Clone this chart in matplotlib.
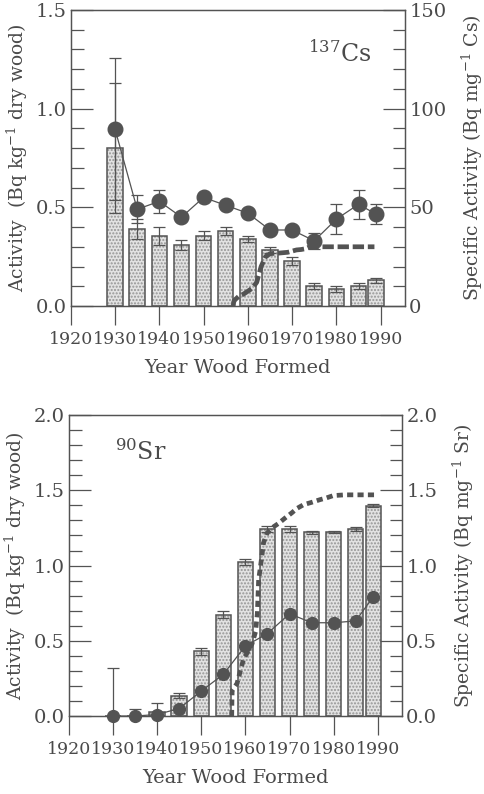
import matplotlib.pyplot as plt
from matplotlib.ticker import MultipleLocator

plt.rcParams['font.family'] = ['DejaVu Serif']
plt.rcParams['mathtext.fontset'] = 'dejavuserif'

GRIS = '#535353'
TEXTE = '#4a4a4a'

# --- 137Cs ---
annees = [1930, 1935, 1940, 1945, 1950, 1955, 1960, 1965, 1970, 1975, 1980, 1985, 1989]
cs_activite = [0.80, 0.39, 0.355, 0.31, 0.357, 0.38, 0.34, 0.286, 0.227, 0.10, 0.086, 0.10, 0.13]
cs_activite_err = [0.33, 0.05, 0.045, 0.025, 0.025, 0.02, 0.015, 0.015, 0.02, 0.015, 0.013, 0.015, 0.012]
cs_specifique = [89.5, 49, 53, 45, 55, 51, 47, 38.5, 38.5, 33, 44, 51.5, 46.5]
cs_specifique_err = [36, 7, 6, 0, 0, 0, 0, 0, 0, 4, 7.5, 7.5, 5]
# courbe en tirets, en unités de l'axe de droite (Bq mg-1)
cs_courbe_annees = [1956.7, 1956.8, 1957, 1958, 1959, 1960, 1961, 1962, 1963, 1964, 1965,
                    1966, 1967, 1968, 1969, 1970, 1971, 1972, 1973, 1974, 1976, 1978,
                    1980, 1982, 1984, 1986, 1988.6]
cs_courbe = [0, 2, 3, 5, 6, 7.5, 9, 12, 20, 25, 26.5,
             26.7, 26.8, 27, 27.2, 27.8, 28.4, 28.6, 29, 30, 30, 30,
             30, 30, 30, 30, 30]

# --- 90Sr ---
sr_activite = [0.0, 0.0, 0.03, 0.135, 0.43, 0.674, 1.024, 1.242, 1.244, 1.22, 1.224, 1.242, 1.397]
sr_activite_err = [0, 0, 0.055, 0.018, 0.025, 0.022, 0.02, 0.022, 0.022, 0.008, 0.009, 0.015, 0.009]
sr_specifique = [0.0, 0.0, 0.01, 0.05, 0.166, 0.277, 0.466, 0.548, 0.68, 0.62, 0.62, 0.632, 0.794]
sr_specifique_err = [0.32, 0.05, 0, 0, 0, 0, 0, 0, 0, 0, 0, 0, 0]
sr_courbe_annees = [1956.9, 1956.95, 1957.0, 1958.1, 1958.9, 1959.6, 1960.8, 1961.5, 1962.3,
                    1962.7, 1963.0, 1963.4, 1963.8, 1964.1, 1964.9, 1966, 1967.5, 1969,
                    1970.5, 1971.7, 1973.2, 1975, 1976.9, 1978.4, 1979.9, 1982.5, 1989.3]
sr_courbe = [0.0, 0.1, 0.17, 0.216, 0.305, 0.38, 0.44, 0.48, 0.56,
             0.68, 0.905, 0.99, 1.08, 1.15, 1.216, 1.25, 1.28, 1.316,
             1.35, 1.38, 1.405, 1.42, 1.438, 1.45, 1.465, 1.47, 1.47]


def style_axes(ax, ax2, ymax, ymaj, ymin, y2max, y2maj, y2min):
    ax.set_xlim(1920, 1995.5)
    ax.set_ylim(0, ymax)
    ax2.set_ylim(0, y2max)
    ax.xaxis.set_major_locator(MultipleLocator(10))
    ax.yaxis.set_major_locator(MultipleLocator(ymaj))
    ax.yaxis.set_minor_locator(MultipleLocator(ymin))
    ax2.yaxis.set_major_locator(MultipleLocator(y2maj))
    ax2.yaxis.set_minor_locator(MultipleLocator(y2min))
    ax.tick_params(axis='x', direction='out', length=14, width=0.9, color=GRIS,
                   labelsize=12.5, labelcolor=TEXTE, pad=4)
    ax.tick_params(axis='y', which='major', direction='in', length=16, width=0.9,
                   color=GRIS, labelsize=14, labelcolor=TEXTE, pad=3)
    ax.tick_params(axis='y', which='minor', direction='in', length=9, width=0.9, color=GRIS)
    ax2.tick_params(axis='y', which='major', direction='in', length=16, width=0.9,
                    color=GRIS, labelsize=14, labelcolor=TEXTE, pad=3)
    ax2.tick_params(axis='y', which='minor', direction='in', length=9, width=0.9, color=GRIS)
    for a in (ax, ax2):
        for s in a.spines.values():
            s.set_color(GRIS)
            s.set_linewidth(0.9)


def barres(ax, valeurs, erreurs):
    ax.bar(annees, valeurs, width=3.5, color='#e2e2e2', edgecolor='#959595',
           hatch='.....', linewidth=0, zorder=2)
    ax.bar(annees, valeurs, width=3.5, fill=False, edgecolor=GRIS, linewidth=1.1, zorder=3)
    for x, v, e in zip(annees, valeurs, erreurs):
        if e > 0:
            ax.errorbar(x, v, yerr=e, fmt='none', ecolor=GRIS, elinewidth=0.9,
                        capsize=4, capthick=0.9, zorder=3)


def cercles(ax2, valeurs, erreurs, taille):
    ax2.plot(annees, valeurs, color=GRIS, linewidth=0.9, marker='o',
             markersize=taille, markerfacecolor=GRIS, markeredgecolor=GRIS,
             zorder=5, clip_on=False)
    for x, v, e in zip(annees, valeurs, erreurs):
        if e > 0:
            ax2.errorbar(x, v, yerr=e, fmt='none', ecolor=GRIS, elinewidth=0.9,
                         capsize=4, capthick=0.9, zorder=5)


fig = plt.figure(figsize=(4.85, 7.94), dpi=100)

# ---------- panneau haut : 137Cs ----------
ax = fig.add_axes([0.146, 0.6146, 0.689, 0.373])
ax2 = ax.twinx()
style_axes(ax, ax2, 1.5, 0.5, 0.1, 150, 50, 10)
ax.yaxis.set_major_formatter(plt.FormatStrFormatter('%.1f'))
barres(ax, cs_activite, cs_activite_err)
ax2.plot(cs_courbe_annees, cs_courbe, color=GRIS, linewidth=3.4,
         linestyle=(0, (2.4, 0.8)), zorder=4)
cercles(ax2, cs_specifique, cs_specifique_err, 10.5)
ax.text(1973.5, 1.24, r'$^{137}$Cs', fontsize=17, color=TEXTE)
ax.set_xlabel('Year Wood Formed', fontsize=14, color=TEXTE, labelpad=8)
ax.set_ylabel(r'Activity  (Bq kg$^{\mathregular{-1}}$ dry wood)', fontsize=13.5,
              color=TEXTE, labelpad=4)
ax2.set_ylabel(r'Specific Activity (Bq mg$^{\mathregular{-1}}$ Cs)', fontsize=13.5,
               color=TEXTE, labelpad=10)

# ---------- panneau bas : 90Sr ----------
bx = fig.add_axes([0.142, 0.0982, 0.687, 0.379])
bx2 = bx.twinx()
style_axes(bx, bx2, 2.0, 0.5, 0.1, 2.0, 0.5, 0.1)
bx.yaxis.set_major_formatter(plt.FormatStrFormatter('%.1f'))
bx2.yaxis.set_major_formatter(plt.FormatStrFormatter('%.1f'))
barres(bx, sr_activite, sr_activite_err)
bx2.plot(sr_courbe_annees, sr_courbe, color=GRIS, linewidth=3.4,
         linestyle=(0, (1.3, 0.9)), zorder=4)
cercles(bx2, sr_specifique, sr_specifique_err, 8.5)
bx.text(1930.5, 1.70, r'$^{90}$Sr', fontsize=17, color=TEXTE)
bx.set_xlabel('Year Wood Formed', fontsize=14, color=TEXTE, labelpad=8)
bx.set_ylabel(r'Activity  (Bq kg$^{\mathregular{-1}}$ dry wood)', fontsize=13.5,
              color=TEXTE, labelpad=4)
bx2.set_ylabel(r'Specific Activity (Bq mg$^{\mathregular{-1}}$ Sr)', fontsize=13.5,
               color=TEXTE, labelpad=10)

fig.savefig('out.png', dpi=100)
